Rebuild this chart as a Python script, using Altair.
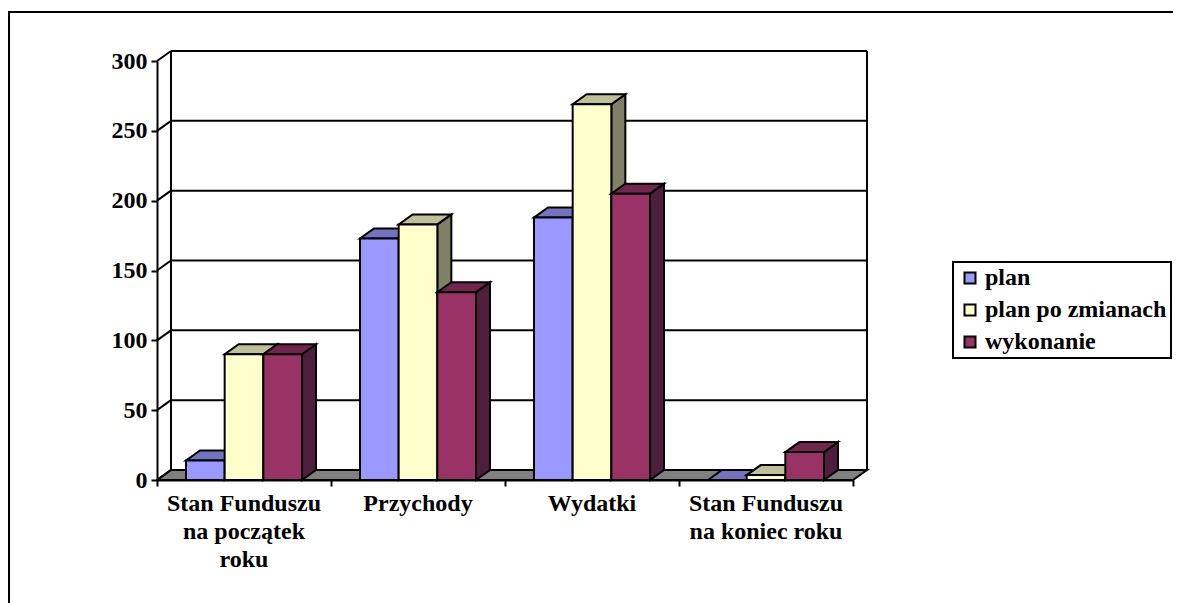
import altair as alt
import pandas as pd

categories = ["Stan Funduszu\nna początek\nroku", "Przychody", "Wydatki", "Stan Funduszu\nna koniec roku"]
series_names = ["plan", "plan po zmianach", "wykonanie"]
plan = [14, 173, 188, 0]
plan_po_zmianach = [90, 183, 269, 3.5]
wykonanie = [90, 134.5, 205, 20]
y_ticks = [0, 50, 100, 150, 200, 250, 300]
front_colors = ["#9999FF", "#FFFFCC", "#993366"]
top_colors = ["#7373BF", "#BFBF99", "#73264D"]
side_colors = ["#5C5C99", "#808066", "#4D1F3D"]

FONT = "Liberation Serif"
FS = 24
SW = 2
DX = 14 / 174      # 3-D depth, in category units
DY = 10 / 419 * 300  # 3-D depth, in value units
BAR = 1 / 4.5
GAP = 0.75 / 4.5

axis_style = dict(domainColor="black", domainWidth=SW, tickColor="black", tickWidth=SW, tickSize=6, grid=False, zindex=1, title=None)
x_axis = alt.Axis(values=[0, 1, 2, 3, 4], labels=False, **axis_style)
y_axis = alt.Axis(values=y_ticks, labelFont=FONT, labelFontSize=FS, labelFontWeight="bold",
                  labelColor="black", labelPadding=4, **axis_style)
X = lambda f: alt.X(f, type="quantitative", scale=alt.Scale(domain=[0, 4], nice=False, zero=False), axis=x_axis)
Y = lambda f: alt.Y(f, type="quantitative", scale=alt.Scale(domain=[0, 300], nice=False, zero=False), axis=y_axis)

layers = []

# floor
floor = pd.DataFrame({"x": [0, DX, 4, 4 + DX], "a": [0, 0, 0, DY], "b": [0, DY, DY, DY]})
layers.append(alt.Chart(floor).mark_area(color="#808080", stroke="black", strokeWidth=SW, interpolate="linear").encode(
    x=X("x"), y=Y("a"), y2=alt.Y2("b")))

# walls and gridlines
rules = pd.DataFrame(
    [dict(x=DX, x2=4 + DX, y=v + DY, y2=v + DY) for v in y_ticks if v > 0]
    + [dict(x=0, x2=DX, y=v, y2=v + DY) for v in y_ticks]
    + [dict(x=DX, x2=DX, y=DY, y2=300 + DY), dict(x=4 + DX, x2=4 + DX, y=DY, y2=300 + DY)]
)
layers.append(alt.Chart(rules).mark_rule(color="black", strokeWidth=SW).encode(
    x=X("x"), x2=alt.X2("x2"), y=Y("y"), y2=alt.Y2("y2")))

# bars
for s, values in enumerate([plan, plan_po_zmianach, wykonanie]):
    fr, top, side = [], [], []
    for c, v in enumerate(values):
        x0 = c + GAP + s * BAR
        x1 = x0 + BAR
        fr.append(dict(x=x0, x2=x1, y=0, y2=v, series=series_names[s]))
        top += [dict(x=x0, a=v, b=v, c=c), dict(x=x0 + DX, a=v, b=v + DY, c=c),
                dict(x=x1, a=v, b=v + DY, c=c), dict(x=x1 + DX, a=v + DY, b=v + DY, c=c)]
        if v > 0:
            side += [dict(x=x1, a=0, b=v, c=c), dict(x=x1 + DX, a=DY, b=v + DY, c=c)]
    layers.append(alt.Chart(pd.DataFrame(side)).mark_area(color=side_colors[s], stroke="black", strokeWidth=SW, interpolate="linear").encode(
        x=X("x"), y=Y("a"), y2=alt.Y2("b"), detail="c:N"))
    layers.append(alt.Chart(pd.DataFrame(top)).mark_area(color=top_colors[s], stroke="black", strokeWidth=SW, interpolate="linear").encode(
        x=X("x"), y=Y("a"), y2=alt.Y2("b"), detail="c:N"))
    layers.append(alt.Chart(pd.DataFrame(fr)).mark_rect(stroke="black", strokeWidth=SW).encode(
        x=X("x"), x2=alt.X2("x2"), y=Y("y"), y2=alt.Y2("y2"),
        color=alt.Color("series:N", scale=alt.Scale(domain=series_names, range=front_colors),
                        legend=alt.Legend(
                            title=None, orient="none", legendX=796, legendY=201,
                            fillColor="white", strokeColor="black", padding=4,
                            symbolType="square", symbolSize=121, symbolStrokeColor="black", symbolStrokeWidth=SW,
                            symbolOffset=1, labelOffset=3, rowPadding=8,
                            labelFont=FONT, labelFontSize=FS, labelFontWeight="bold", labelColor="black", labelLimit=300))))

# category labels
lab = pd.DataFrame({"x": [i + 0.5 for i in range(4)], "t": categories})
layers.append(alt.Chart(lab).mark_text(
    font=FONT, fontSize=FS, fontWeight="bold", color="black", lineBreak="\n", lineHeight=28,
    baseline="top", align="center").encode(x=X("x"), y=alt.value(431), text="t:N"))

# outer frame
frame = alt.Chart(pd.DataFrame({"k": [0]}))
layers.append(frame.mark_rule(color="black", strokeWidth=2).encode(
    x=alt.value(-149), x2=alt.value(1016), y=alt.value(-49)))
layers.append(frame.mark_rule(color="black", strokeWidth=2).encode(
    x=alt.value(-148), y=alt.value(-49), y2=alt.value(542)))

chart = alt.layer(*layers).properties(
    width=696, height=419,
    padding={"left": 149, "top": 53, "right": 320, "bottom": 123},
    autosize="none", background="white",
).configure_view(stroke=None).configure_legend(strokeWidth=2)

chart.save("out.html", embed_options={"renderer": "svg", "actions": False})
